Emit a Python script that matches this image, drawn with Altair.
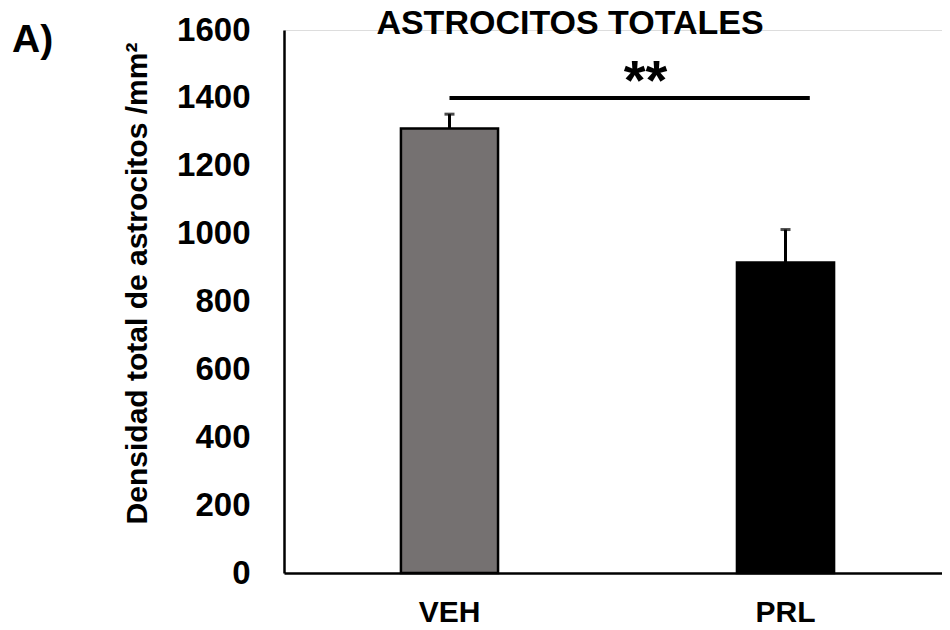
import altair as alt
import pandas as pd

# ---- data ----
categories = ["VEH", "PRL"]
means = [1310, 915]
sems = [42, 97]
bar_colors = ["#757171", "#000000"]
y_ticks = [0, 200, 400, 600, 800, 1000, 1200, 1400, 1600]
sig_from = ["VEH"]
sig_to = ["PRL"]
sig_y = [1400]
sig_text = ["**"]
sig_text_y = [1476]
chart_title = ["ASTROCITOS TOTALES"]
panel_label = ["A)"]
y_title = "Densidad total de astrocitos /mm²"

FONT = "Liberation Sans"

df = pd.DataFrame({
    "group": categories,
    "mean": means,
    "upper": [m + s for m, s in zip(means, sems)],
})
sig_df = pd.DataFrame({"from": sig_from, "to": sig_to, "y": sig_y,
                       "label": sig_text, "ty": sig_text_y})
lab_df = pd.DataFrame({"t": panel_label})
title_df = pd.DataFrame({"t": chart_title})

x_scale = alt.Scale(domain=categories, paddingInner=0.711,
                    paddingOuter=0.3346, align=0.52)
y_scale = alt.Scale(domain=[0, 1600], nice=False)

x_axis = alt.Axis(title=None, labelAngle=0, labelFontSize=30, labelFontWeight="bold",
                  labelFont=FONT, labelColor="black", ticks=False, tickSize=0,
                  labelPadding=24, domainColor="black", domainWidth=2.5)
y_axis = alt.Axis(values=y_ticks, format="d", title=y_title, grid=False, ticks=False,
                  tickSize=0, labelPadding=34, labelFontSize=33, labelFontWeight="bold",
                  labelFont=FONT, labelColor="black", domainColor="black",
                  domainWidth=2.5, titleFont=FONT, titleFontSize=30,
                  titleFontWeight="bold", titleColor="black", titlePadding=24,
                  titleY=253)


def xe(field, **kw):
    return alt.X(field, scale=x_scale, axis=x_axis, **kw)


def ye(field):
    return alt.Y(field, scale=y_scale, axis=y_axis)


base = alt.Chart(df)

bars = base.mark_bar(stroke="black", strokeWidth=2.5).encode(
    x=xe("group:N"),
    y=ye("mean:Q"),
    color=alt.Color("group:N", scale=alt.Scale(domain=categories, range=bar_colors),
                    legend=None),
)

stems = base.mark_rule(color="black", strokeWidth=3).encode(
    x=xe("group:N"),
    y=ye("mean:Q"),
    y2="upper:Q",
)

caps = base.mark_tick(color="black", thickness=3, size=10).encode(
    x=xe("group:N"),
    y=ye("upper:Q"),
)

sig_line = alt.Chart(sig_df).mark_rule(color="black", strokeWidth=4).encode(
    x=xe("from:N", bandPosition=0.5),
    x2=alt.X2("to:N", bandPosition=0.75),
    y=ye("y:Q"),
)

sig_star = alt.Chart(sig_df).mark_text(
    fontSize=56, fontWeight="bold", font=FONT, baseline="middle", dx=-140, dy=10,
    color="black"
).encode(
    x=xe("to:N", bandPosition=0.5),
    y=ye("ty:Q"),
    text="label:N",
)

panel = alt.Chart(lab_df).mark_text(
    fontSize=39, fontWeight="bold", font=FONT, align="left", baseline="alphabetic",
    color="black"
).encode(
    text="t:N",
    x=alt.value(-272),
    y=alt.value(22),
)

title = alt.Chart(title_df).mark_text(
    fontSize=34, fontWeight="bold", font=FONT, align="center", baseline="alphabetic",
    color="black"
).encode(
    text="t:N",
    x=alt.value(286),
    y=alt.value(4),
)

chart = alt.layer(bars, stems, caps, sig_line, sig_star, panel, title).properties(
    width=658,
    height=543,
    padding={"left": 276, "top": 22, "right": 0, "bottom": 49},
    autosize=alt.AutoSizeParams(type="none"),
).configure_view(stroke=None).configure(background="white")

chart.save("out.html", embed_options={"renderer": "svg", "actions": False})
